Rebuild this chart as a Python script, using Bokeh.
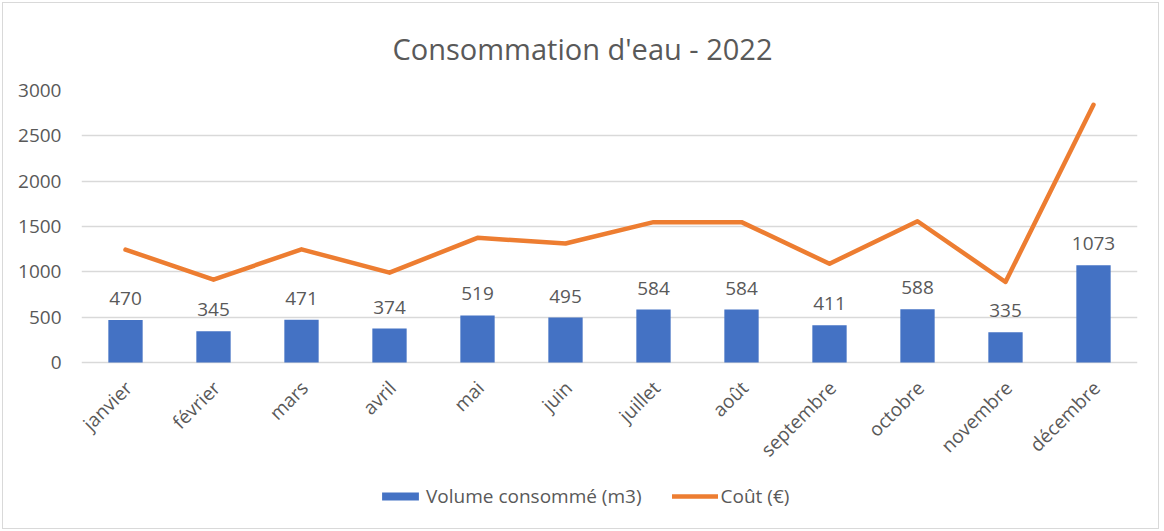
import math
from bokeh.plotting import figure
from bokeh.models import ColumnDataSource, Range1d, FixedTicker, Legend, LegendItem, Title
from bokeh.core.properties import value
from bokeh.embed import file_html
from bokeh.resources import INLINE

months = ["janvier", "février", "mars", "avril", "mai", "juin", "juillet",
          "août", "septembre", "octobre", "novembre", "décembre"]
volume = [470, 345, 471, 374, 519, 495, 584, 584, 411, 588, 335, 1073]
cout = [1245, 914, 1248, 991, 1375, 1312, 1548, 1548, 1089, 1558, 888, 2843]
y_ticks = [0, 500, 1000, 1500, 2000, 2500, 3000]

FONT = "Open Sans"
TXT = "#595959"
GRID = "#D9D9D9"
BLUE = "#4472C4"
ORANGE = "#ED7D31"

# layout: value axis spans 272 px for 0..3000; 166 px kept below zero for month labels + legend
PLOT_PX = 272
BELOW_PX = 166
y_top = y_ticks[-1]
y_bottom = -y_top * BELOW_PX / PLOT_PX

src = ColumnDataSource(dict(m=months, v=volume, c=cout, lab=[str(v) for v in volume],
                            zero=[0] * len(months)))

p = figure(x_range=months, y_range=Range1d(y_bottom, y_top),
           frame_width=1056, frame_height=PLOT_PX + BELOW_PX,
           output_backend="svg", toolbar_location=None,
           min_border_left=78, min_border_right=21, min_border_top=87, min_border_bottom=0)
p.styles = {"border": "1px solid #D9D9D9", "margin": "2px 0 0 2px"}
p.outline_line_color = None
p.background_fill_color = "white"
p.border_fill_color = "white"

p.title = Title(text="Consommation d'eau - 2022", align="left", offset=311,
                text_font=FONT, text_font_size="29px", text_font_style="normal",
                text_color=TXT, standoff=46)

bars = p.vbar(x="m", top="v", width=0.39, source=src, fill_color=BLUE, line_color=None)
line = p.line(x="m", y="c", source=src, line_color=ORANGE, line_width=4.5,
              line_join="round", line_cap="round")
p.text(x="m", y="v", text="lab", source=src, text_align="center", text_baseline="bottom",
       y_offset=-15, text_font=value(FONT), text_font_size="19px", text_color=TXT)

# month labels (rotated 45°), anchored at the category positions on the zero line
p.text(x="m", y="zero", text="m", source=src, angle=math.pi / 4,
       text_align="right", text_baseline="middle", x_offset=3, y_offset=22,
       text_font=value(FONT), text_font_size="19px", text_color=TXT)

p.yaxis.ticker = FixedTicker(ticks=y_ticks)
p.yaxis.axis_line_color = None
p.yaxis.major_tick_line_color = None
p.yaxis.minor_tick_line_color = None
p.yaxis.major_label_text_font = FONT
p.yaxis.major_label_text_font_size = "19px"
p.yaxis.major_label_text_color = TXT
p.yaxis.major_label_standoff = 14

p.xaxis.visible = False
p.xgrid.grid_line_color = None
p.ygrid.ticker = FixedTicker(ticks=y_ticks)
p.ygrid.grid_line_color = GRID
p.ygrid.grid_line_width = 1.5

legend = Legend(items=[LegendItem(label="Volume consommé (m3)", renderers=[bars]),
                       LegendItem(label="Coût (€)", renderers=[line])],
                orientation="horizontal", location=(296, 19),
                label_text_font=FONT, label_text_font_size="19px", label_text_color=TXT,
                glyph_width=46, glyph_height=10, label_standoff=3, spacing=30,
                border_line_color=None, background_fill_alpha=0, margin=0, padding=0)
p.add_layout(legend, "center")

open("out.html", "w").write(file_html(p, INLINE))
